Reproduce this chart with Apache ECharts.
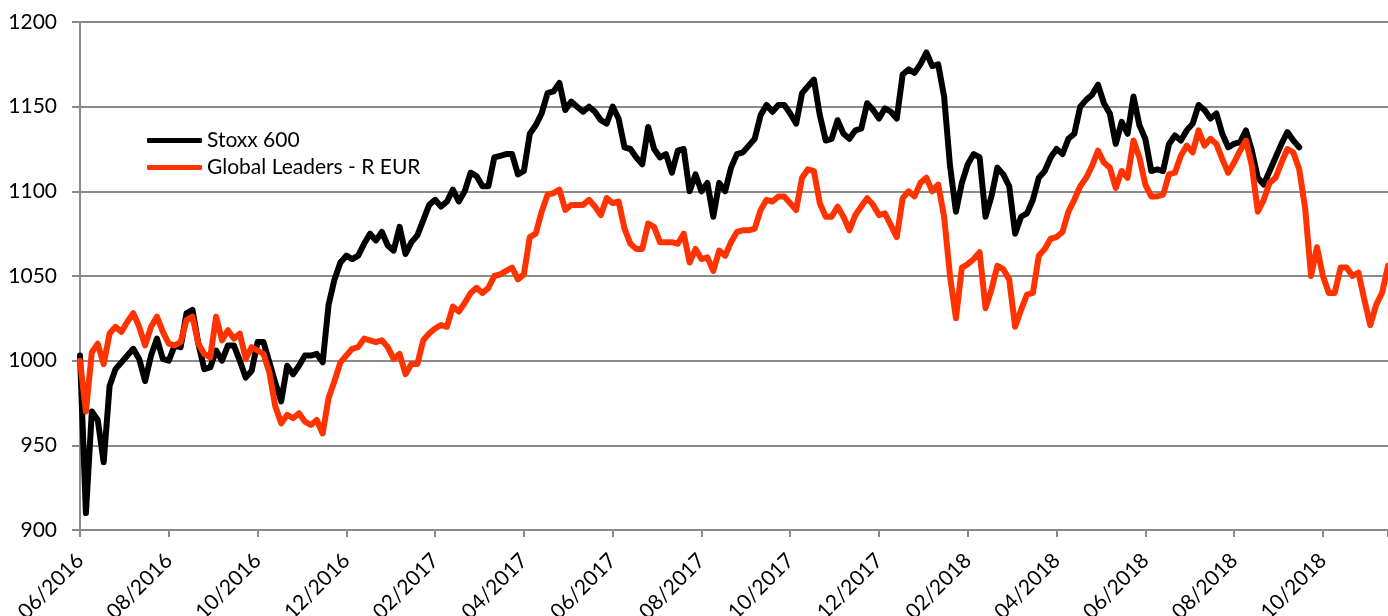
<!DOCTYPE html>
<html>
<head>
<meta charset="utf-8">
<script src="https://cdn.jsdelivr.net/npm/echarts@6/dist/echarts.min.js"></script>
<style>
  html, body { margin: 0; padding: 0; background: #fff; }
  #chart { width: 1388px; height: 616px; }
</style>
</head>
<body>
<div id="chart"></div>
<script>
// tick labels, one every 15 points (2 months)
const tickLabels = ['06/2016', '08/2016', '10/2016', '12/2016', '02/2017', '04/2017', '06/2017', '08/2017',
  '10/2017', '12/2017', '02/2018', '04/2018', '06/2018', '08/2018', '10/2018']
const pointsPerTick = 15
const lastIndex = 221

const stoxx = [
  1003, 910, 970, 965, 940, 985, 995, 999, 1003, 1007, 1001, 988, 1003, 1013, 1001,
  1000, 1009, 1008, 1028, 1030, 1010, 995, 996, 1006, 1000, 1009, 1009, 1000, 990, 994,
  1011, 1011, 999, 987, 976, 997, 992, 997, 1003, 1003, 1004, 999, 1033, 1048, 1058,
  1062, 1060, 1062, 1069, 1075, 1071, 1076, 1068, 1065, 1079, 1063, 1070, 1074, 1083, 1092,
  1095, 1091, 1094, 1101, 1094, 1100, 1111, 1109, 1103, 1103, 1120, 1121, 1122, 1122, 1110,
  1112, 1134, 1139, 1146, 1158, 1159, 1164, 1148, 1153, 1150, 1147, 1150, 1147, 1142, 1140,
  1150, 1143, 1126, 1125, 1120, 1116, 1138, 1125, 1120, 1122, 1111, 1124, 1125, 1100, 1110,
  1100, 1105, 1085, 1105, 1100, 1114, 1122, 1123, 1127, 1131, 1145, 1151, 1147, 1151, 1151,
  1146, 1140, 1158, 1162, 1166, 1145, 1130, 1131, 1142, 1134, 1131, 1136, 1137, 1152, 1148,
  1143, 1149, 1147, 1143, 1169, 1172, 1170, 1175, 1182, 1174, 1175, 1156, 1115, 1088, 1105,
  1116, 1122, 1120, 1085, 1097, 1114, 1110, 1103, 1075, 1085, 1087, 1095, 1108, 1112, 1120,
  1125, 1122, 1131, 1134, 1150, 1154, 1157, 1163, 1152, 1146, 1128, 1141, 1134, 1156, 1139,
  1131, 1112, 1113, 1112, 1128, 1133, 1130, 1136, 1140, 1151, 1148, 1143, 1146, 1134, 1126,
  1128, 1129, 1136, 1124, 1108, 1104, 1112, 1120, 1128, 1135, 1130, 1126
]

const leaders = [
  1000, 970, 1005, 1010, 998, 1016, 1020, 1017, 1023, 1028, 1020, 1009, 1020, 1026, 1017,
  1010, 1009, 1011, 1024, 1026, 1010, 1004, 1002, 1026, 1012, 1018, 1013, 1016, 1001, 1008,
  1006, 1004, 993, 973, 963, 968, 966, 969, 964, 962, 965, 957, 978, 988, 999,
  1003, 1007, 1008, 1013, 1012, 1011, 1012, 1008, 1001, 1004, 992, 998, 998, 1012, 1016,
  1019, 1021, 1020, 1032, 1029, 1034, 1040, 1043, 1040, 1043, 1050, 1051, 1053, 1055, 1048,
  1051, 1073, 1075, 1088, 1098, 1099, 1101, 1089, 1092, 1092, 1092, 1095, 1091, 1086, 1096,
  1093, 1094, 1078, 1069, 1066, 1066, 1081, 1079, 1070, 1070, 1070, 1069, 1075, 1058, 1066,
  1060, 1061, 1053, 1065, 1062, 1070, 1076, 1077, 1077, 1078, 1089, 1095, 1094, 1097, 1097,
  1093, 1089, 1108, 1113, 1112, 1093, 1085, 1085, 1091, 1085, 1077, 1086, 1091, 1096, 1092,
  1086, 1087, 1080, 1073, 1096, 1100, 1097, 1105, 1108, 1100, 1104, 1085, 1050, 1025, 1055,
  1057, 1060, 1064, 1031, 1042, 1056, 1054, 1048, 1020, 1030, 1039, 1040, 1062, 1066, 1072,
  1073, 1076, 1088, 1095, 1103, 1108, 1115, 1124, 1117, 1114, 1102, 1112, 1108, 1130, 1120,
  1104, 1097, 1097, 1098, 1110, 1111, 1121, 1127, 1123, 1136, 1127, 1131, 1128, 1119, 1111,
  1117, 1124, 1130, 1115, 1088, 1095, 1105, 1108, 1117, 1125, 1123, 1113, 1090, 1050, 1067,
  1050, 1040, 1040, 1055, 1055, 1050, 1052, 1036, 1021, 1033, 1040, 1056
]

const seriesNames = ['Stoxx 600', 'Global Leaders - R EUR']
const seriesColors = ['#000000', '#ff3300']

const font = 'Lato'
const gray = '#8a8a8a'

const chart = echarts.init(document.getElementById('chart'))

const toPoints = arr => arr.map((v, i) => [i, v])

chart.setOption({
  animation: false,
  grid: {
    left: 80,
    right: 0,
    top: 22,
    bottom: 86,
    containLabel: false,
    outerBoundsMode: 'none'
  },
  legend: {
    orient: 'vertical',
    left: 142,
    top: 125,
    itemWidth: 55,
    itemHeight: 5,
    itemGap: 6,
    icon: 'roundRect',
    textStyle: {
      fontFamily: font,
      fontSize: 21,
      lineHeight: 21,
      color: '#000'
    },
    data: seriesNames
  },
  xAxis: {
    type: 'value',
    min: 0,
    max: lastIndex,
    interval: pointsPerTick,
    axisLine: { show: true, lineStyle: { color: gray, width: 2 } },
    axisTick: { show: true, length: 7, lineStyle: { color: gray, width: 2 } },
    splitLine: { show: false },
    axisLabel: {
      rotate: 45,
      margin: 27,
      fontFamily: font,
      fontSize: 21,
      color: '#000',
      formatter: v => (v % pointsPerTick === 0 && tickLabels[v / pointsPerTick]) || ''
    }
  },
  yAxis: {
    type: 'value',
    min: 900,
    max: 1200,
    interval: 50,
    axisLine: { show: true, lineStyle: { color: gray, width: 2 } },
    axisTick: { show: true, length: 8, lineStyle: { color: gray, width: 2 } },
    splitLine: { show: true, lineStyle: { color: gray, width: 2 } },
    axisLabel: {
      margin: 23,
      fontFamily: font,
      fontSize: 21,
      color: '#000',
      formatter: v => String(v)
    }
  },
  series: [
    {
      name: seriesNames[0],
      type: 'line',
      data: toPoints(stoxx),
      symbol: 'none',
      color: seriesColors[0],
      lineStyle: { width: 6, cap: 'round', join: 'round' }
    },
    {
      name: seriesNames[1],
      type: 'line',
      data: toPoints(leaders),
      symbol: 'none',
      color: seriesColors[1],
      lineStyle: { width: 6, cap: 'round', join: 'round' }
    }
  ]
})
</script>
</body>
</html>
